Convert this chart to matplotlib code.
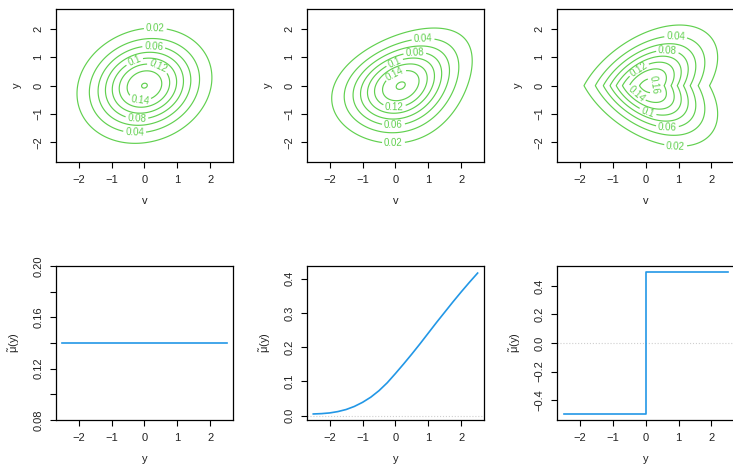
import matplotlib
matplotlib.use("Agg")
import matplotlib.pyplot as plt
import numpy as np

plt.rcParams['font.family'] = ['Liberation Sans', 'DejaVu Sans']
plt.rcParams['mathtext.fontset'] = 'custom'
plt.rcParams['mathtext.rm'] = 'Liberation Sans'
plt.rcParams['mathtext.it'] = 'Liberation Sans:italic'

GREEN = '#61D04F'
BLUE = '#2297E6'

# contour levels of the joint densities (top row)
levels = [0.02, 0.04, 0.06, 0.08, 0.10, 0.12, 0.14, 0.16]

# conditional centre of v given y: c(y) = a + b*y + d*y^2 + e*|y|, and spreads
shift_a = [0.0, 0.16, 0.03]
shift_b = [0.14, 0.31, 0.0]
shift_d = [0.0, 0.095, 0.0]
shift_e = [0.0, 0.0, 0.47]
sd_y = [0.9955, 0.993, 1.04]
sd_v = [0.9955, 0.993, 0.93]

# where the contour labels sit (v, y)
label_pos = [
    [(0.33, 1.97), (0.28, 1.31), (-0.28, 0.79), (0.38, 0.58), (-0.13, -0.42), (-0.23, -1.12), (-0.30, -1.68)],
    [(0.84, 1.64), (0.59, 1.13), (-0.03, 0.82), (0.02, 0.35), (-0.03, -0.71), (-0.06, -1.39), (-0.06, -2.05)],
    [(0.91, 1.67), (0.66, 1.17), (-0.25, 0.64), (0.30, 0.02), (-0.33, -0.34), (0.05, -0.97), (0.66, -1.45), (0.91, -2.09)],
]

# bottom row: mu-tilde(y)
y_const = [-2.5, 2.5]
mu_const = [0.14, 0.14]

y_smooth = [-2.5, -2.25, -2.0, -1.75, -1.5, -1.25, -1.0, -0.75, -0.5, -0.25, 0.0,
            0.25, 0.5, 0.75, 1.0, 1.25, 1.5, 1.75, 2.0, 2.25, 2.5]
mu_smooth = [0.005, 0.006, 0.008, 0.012, 0.018, 0.027, 0.039, 0.054, 0.073, 0.096, 0.123,
             0.151, 0.180, 0.210, 0.241, 0.272, 0.302, 0.332, 0.361, 0.389, 0.416]

y_step = [-2.5, 0.0, 0.0, 2.5]
mu_step = [-0.5, -0.5, 0.5, 0.5]


def density(i, v, y):
    c = shift_a[i] + shift_b[i] * y + shift_d[i] * y ** 2 + shift_e[i] * np.abs(y)
    q = (y / sd_y[i]) ** 2 + ((v - c) / sd_v[i]) ** 2
    return np.exp(-0.5 * q) / (2 * np.pi * sd_y[i] * sd_v[i])


def style_axes(ax, xlabel, ylabel):
    for s in ax.spines.values():
        s.set_linewidth(0.9)
    ax.tick_params(direction='out', length=4.5, width=0.8, labelsize=8, pad=4.5,
                   labelcolor='#222222')
    for lab in ax.get_yticklabels():
        lab.set_rotation(90)
        lab.set_va('center')
    ax.set_xlabel(xlabel, fontsize=8, labelpad=8, color='#222222')
    ax.set_ylabel(ylabel, fontsize=8, labelpad=8, color='#222222')


fig = plt.figure(figsize=(7.33, 4.65), dpi=100)
W, H = 733.0, 465.0
lefts = [55.7, 306.7, 557.0]
width = 177.5

grid = np.linspace(-2.5, 2.5, 301)
V, Y = np.meshgrid(grid, grid)

for i in range(3):
    ax = fig.add_axes([lefts[i] / W, (H - 162.3) / H, width / W, 153.3 / H])
    Z = density(i, V, Y)
    cs = ax.contour(V, Y, Z, levels=levels, colors=GREEN, linewidths=0.85)
    ax.clabel(cs, manual=label_pos[i], inline=True, inline_spacing=3,
              fontsize=7, fmt=lambda L: f'{L:g}')
    ax.set_xlim(-2.7, 2.7)
    ax.set_ylim(-2.7, 2.7)
    ax.set_xticks([-2, -1, 0, 1, 2])
    ax.set_yticks([-2, -1, 0, 1, 2])
    ax.set_xticklabels(['\u22122', '\u22121', '0', '1', '2'])
    ax.set_yticklabels(['\u22122', '\u22121', '0', '1', '2'])
    style_axes(ax, 'v', 'y')

mu_label = r'$\tilde{\mathrm{\mu}}(\mathrm{y})$'
xt = [-2, -1, 0, 1, 2]
xtl = ['\u22122', '\u22121', '0', '1', '2']

ax = fig.add_axes([lefts[0] / W, (H - 420) / H, width / W, 154 / H])
ax.plot(y_const, mu_const, color=BLUE, lw=1.2)
ax.set_xlim(-2.7, 2.7)
ax.set_ylim(0.08, 0.20)
ax.set_xticks(xt)
ax.set_xticklabels(xtl)
ax.set_yticks([0.08, 0.10, 0.12, 0.14, 0.16, 0.18, 0.20])
ax.set_yticklabels(['0.08', '', '0.12', '', '0.16', '', '0.20'])
style_axes(ax, 'y', mu_label)

ax = fig.add_axes([lefts[1] / W, (H - 420) / H, width / W, 154 / H])
ax.axhline(0, color='#cfcfcf', ls=':', lw=0.8)
ax.plot(y_smooth, mu_smooth, color=BLUE, lw=1.2)
ax.set_xlim(-2.7, 2.7)
ax.set_ylim(-0.0126, 0.4366)
ax.set_xticks(xt)
ax.set_xticklabels(xtl)
ax.set_yticks([0.0, 0.1, 0.2, 0.3, 0.4])
ax.set_yticklabels(['0.0', '0.1', '0.2', '0.3', '0.4'])
style_axes(ax, 'y', mu_label)

ax = fig.add_axes([lefts[2] / W, (H - 420) / H, width / W, 154 / H])
ax.axhline(0, color='#cfcfcf', ls=':', lw=0.8)
ax.plot(y_step, mu_step, color=BLUE, lw=1.2)
ax.set_xlim(-2.7, 2.7)
ax.set_ylim(-0.54, 0.54)
ax.set_xticks(xt)
ax.set_xticklabels(xtl)
ax.set_yticks([-0.4, -0.2, 0.0, 0.2, 0.4])
ax.set_yticklabels(['\u22120.4', '\u22120.2', '0.0', '0.2', '0.4'])
style_axes(ax, 'y', mu_label)

fig.savefig('out.png', dpi=100)
